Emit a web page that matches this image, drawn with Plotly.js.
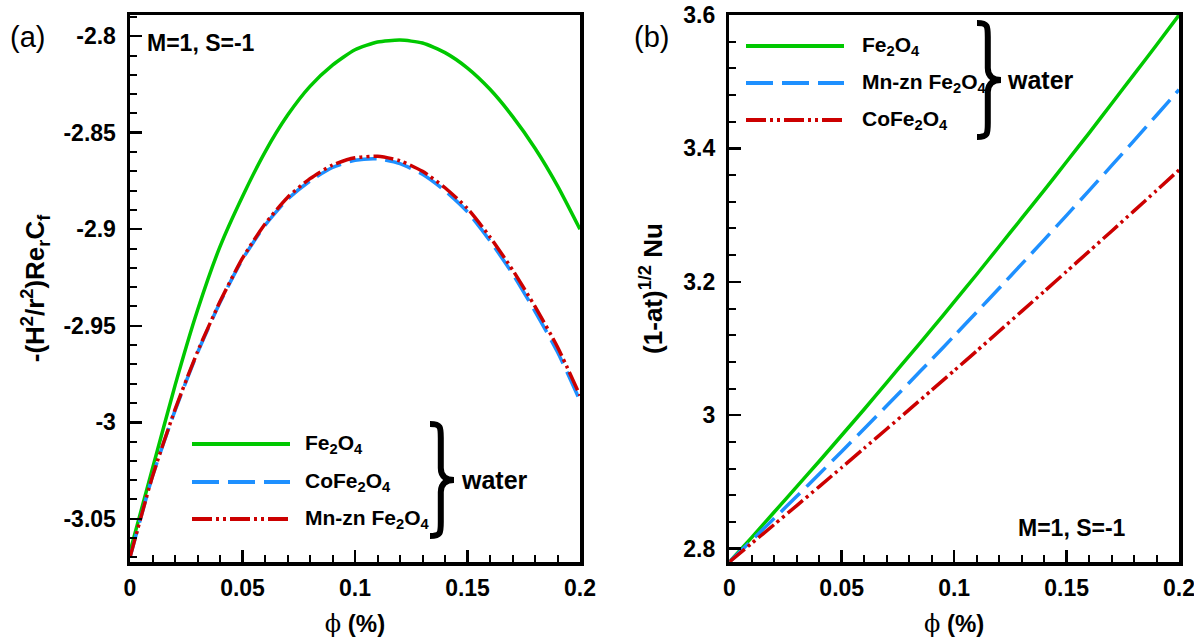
<!DOCTYPE html>
<html>
<head>
<meta charset="utf-8">
<script src="https://cdn.plot.ly/plotly-3.0.1.min.js"></script>
<style>html,body{margin:0;padding:0;background:#fff;}#chart{width:1194px;height:638px;}</style>
</head>
<body>
<div id="chart"></div>
<script>
// ---- data ----
const phi = [0,0.01,0.02,0.03,0.04,0.05,0.06,0.07,0.08,0.09,0.10,0.11,0.12,0.13,0.14,0.15,0.16,0.17,0.18,0.19,0.20];

// (a) skin friction -(H^2/r^2) Re_r C_f
const cfFe   = [-3.067,-3.024,-2.981,-2.942,-2.909,-2.883,-2.860,-2.841,-2.826,-2.815,-2.807,-2.803,-2.802,-2.8035,-2.8085,-2.8165,-2.8275,-2.8415,-2.858,-2.8775,-2.900];
const cfCo   = [-3.070,-3.028,-2.994,-2.964,-2.938,-2.9155,-2.898,-2.8845,-2.875,-2.868,-2.8643,-2.8635,-2.866,-2.8715,-2.880,-2.891,-2.906,-2.923,-2.9425,-2.9636,-2.9888];
const cfMn   = [-3.070,-3.028,-2.9935,-2.9635,-2.9375,-2.915,-2.8973,-2.8835,-2.8738,-2.8667,-2.863,-2.8622,-2.8645,-2.870,-2.8785,-2.8893,-2.904,-2.921,-2.940,-2.961,-2.9862];

// (b) Nusselt number (1-at)^(1/2) Nu
const nuFe   = [2.780,2.817,2.855,2.893,2.931,2.970,3.009,3.049,3.089,3.129,3.170,3.211,3.253,3.295,3.337,3.380,3.423,3.467,3.511,3.555,3.600];
const nuMn   = [2.780,2.8125,2.8454,2.8785,2.9119,2.9457,2.9797,3.0141,3.0487,3.0837,3.1189,3.1545,3.1903,3.2265,3.2629,3.2997,3.3367,3.3741,3.4117,3.4497,3.488];
const nuCo   = [2.780,2.8081,2.8363,2.8646,2.8931,2.9217,2.9505,2.9794,3.0084,3.0376,3.0669,3.0963,3.1259,3.1557,3.1855,3.2155,3.2457,3.2759,3.3064,3.3369,3.3676];

// tick labels
const cfTickVals = [-3.05,-3,-2.95,-2.9,-2.85,-2.8];
const cfTickText = ['-3.05','-3','-2.95','-2.9','-2.85','-2.8'];
const nuTickVals = [2.8,3,3.2,3.4,3.6];
const nuTickText = ['2.8','3','3.2','3.4','3.6'];
const phiTickVals = [0,0.05,0.1,0.15,0.2];
const phiTickText = ['0','0.05','0.1','0.15','0.2'];

const labFe = 'Fe<sub>2</sub>O<sub>4</sub>';
const labCo = 'CoFe<sub>2</sub>O<sub>4</sub>';
const labMn = 'Mn-zn Fe<sub>2</sub>O<sub>4</sub>';

// ---- styling ----
const W = 1194, H = 638;
const GREEN = '#00c800', BLUE = '#1e90ff', RED = '#cc0000';
const DASH_BLUE = '27px,9px';
const DASH_RED = '20px,4px,3px,4px,3px,4px';
const LW = 3.5;
const FONT = 'Liberation Sans, Arial, sans-serif';
const fx = v => v / W;
const fy = v => 1 - v / H;

function tr(x, y, name, color, dash, xa, ya) {
  return {x: x, y: y, name: name, type: 'scatter', mode: 'lines', xaxis: xa, yaxis: ya, cliponaxis: false,
    line: {color: color, width: LW, dash: dash, shape: 'spline', smoothing: 0.6}, showlegend: false};
}

const data = [
  tr(phi, cfFe, labFe, GREEN, 'solid', 'x', 'y'),
  tr(phi, cfCo, labCo, BLUE, DASH_BLUE, 'x', 'y'),
  tr(phi, cfMn, labMn, RED, DASH_RED, 'x', 'y'),
  tr(phi, nuFe, labFe, GREEN, 'solid', 'x2', 'y2'),
  tr(phi, nuMn, labMn, BLUE, DASH_BLUE, 'x2', 'y2'),
  tr(phi, nuCo, labCo, RED, DASH_RED, 'x2', 'y2')
];

const tickFont = {family: FONT, size: 23, color: '#000', weight: 'bold'};
const titleFont = {family: FONT, size: 26, color: '#000', weight: 'bold'};
const phiTitle = '<span style="font-family:DejaVu Serif;font-weight:normal">ϕ</span> (%)';

function xAxis(domain) {
  return {domain: domain, range: [-1e-7, 0.2000001], tickmode: 'array', tickvals: phiTickVals, ticktext: phiTickText,
    ticks: 'inside', ticklen: 12, tickwidth: 2.5, tickcolor: '#000',
    minor: {ticks: 'inside', ticklen: 7, tickwidth: 2, tickcolor: '#000', tickmode: 'linear', tick0: 0, dtick: 0.01},
    showline: true, linewidth: 3.5, linecolor: '#000', mirror: true, ticklabeloverflow: 'allow',
    showgrid: false, zeroline: false, tickfont: tickFont, ticklabelstandoff: 3,
    title: {text: phiTitle, font: {family: FONT, size: 24, color: '#000', weight: 'bold'}, standoff: 18}};
}
function yAxis(domain, range, tv, tt, mdt, anchor, title, standoff) {
  return {domain: domain, range: range, anchor: anchor, tickmode: 'array', tickvals: tv, ticktext: tt,
    ticks: 'inside', ticklen: 12, tickwidth: 2.5, tickcolor: '#000',
    minor: {ticks: 'inside', ticklen: 7, tickwidth: 2, tickcolor: '#000', tickmode: 'linear', tick0: 0, dtick: mdt},
    showline: true, linewidth: 3.5, linecolor: '#000', mirror: true, ticklabeloverflow: 'allow',
    showgrid: false, zeroline: false, tickfont: tickFont, ticklabelstandoff: 6,
    title: {text: title, font: titleFont, standoff: standoff}};
}

const yDom = [fy(562), fy(15)];
const layout = {
  width: W, height: H,
  margin: {l: 0, r: 0, t: 0, b: 0},
  paper_bgcolor: '#fff', plot_bgcolor: '#fff',
  showlegend: false,
  xaxis: Object.assign(xAxis([fx(130), fx(580)]), {anchor: 'y'}),
  yaxis: yAxis(yDom, [-3.0724, -2.789], cfTickVals, cfTickText, 0.01, 'x',
    '-(H<sup>2</sup>/r<sup>2</sup>)Re<sub>r</sub>C<sub>f</sub>', 12),
  xaxis2: Object.assign(xAxis([fx(729.3), fx(1179)]), {anchor: 'y2'}),
  yaxis2: yAxis(yDom, [2.78, 3.6000001], nuTickVals, nuTickText, 0.04, 'x2',
    '(1-at)<sup>1/2</sup> Nu', 14),
  shapes: [],
  annotations: []
};

function legendBlock(x0, x1, xt, rows, braceX, braceTop, braceBot, waterX) {
  rows.forEach(r => {
    layout.shapes.push({type: 'line', xref: 'paper', yref: 'paper', x0: fx(x0), x1: fx(x1), y0: fy(r.y), y1: fy(r.y),
      line: {color: r.color, width: 4, dash: r.dash}});
    layout.annotations.push({xref: 'paper', yref: 'paper', x: fx(xt), y: fy(r.y), xanchor: 'left', yanchor: 'middle',
      text: r.text, showarrow: false, font: {family: FONT, size: 21, color: '#000', weight: 'bold'}});
  });
  const w = 24, xm = braceX + w * 0.45, ym = (braceTop + braceBot) / 2;
  const P = (a, b) => fx(a) + ',' + fy(b);
  const path = 'M' + P(braceX, braceTop) +
    ' C' + P(braceX + w * 0.45, braceTop) + ' ' + P(xm, braceTop + 3) + ' ' + P(xm, braceTop + 14) +
    ' L' + P(xm, ym - 12) +
    ' C' + P(xm, ym - 3) + ' ' + P(braceX + w * 0.7, ym) + ' ' + P(braceX + w, ym) +
    ' C' + P(braceX + w * 0.7, ym) + ' ' + P(xm, ym + 3) + ' ' + P(xm, ym + 12) +
    ' L' + P(xm, braceBot - 14) +
    ' C' + P(xm, braceBot - 3) + ' ' + P(braceX + w * 0.45, braceBot) + ' ' + P(braceX, braceBot);
  layout.shapes.push({type: 'path', xref: 'paper', yref: 'paper', path: path, line: {color: '#000', width: 6}});
  layout.annotations.push({xref: 'paper', yref: 'paper', x: fx(waterX), y: fy(ym), xanchor: 'left', yanchor: 'middle',
    text: 'water', showarrow: false, font: {family: FONT, size: 25, color: '#000', weight: 'bold'}});
}

legendBlock(192, 290, 303, [
  {y: 444, color: GREEN, dash: 'solid', text: labFe},
  {y: 482, color: BLUE, dash: DASH_BLUE, text: labCo},
  {y: 519, color: RED, dash: DASH_RED, text: labMn}
], 430, 424, 536, 459);

legendBlock(746, 844, 860, [
  {y: 46, color: GREEN, dash: 'solid', text: labFe},
  {y: 83, color: BLUE, dash: DASH_BLUE, text: labMn},
  {y: 120, color: RED, dash: DASH_RED, text: labCo}
], 977, 23, 137, 1005);

// panel labels and parameter notes
layout.annotations.push(
  {xref: 'paper', yref: 'paper', x: fx(8), y: fy(37), xanchor: 'left', yanchor: 'middle', text: '(a)', showarrow: false,
    font: {family: FONT, size: 29, color: '#000'}},
  {xref: 'paper', yref: 'paper', x: fx(632), y: fy(37), xanchor: 'left', yanchor: 'middle', text: '(b)', showarrow: false,
    font: {family: FONT, size: 29, color: '#000'}},
  {xref: 'paper', yref: 'paper', x: fx(145), y: fy(43), xanchor: 'left', yanchor: 'middle', text: 'M=1, S=-1', showarrow: false,
    font: {family: FONT, size: 23, color: '#000', weight: 'bold'}},
  {xref: 'paper', yref: 'paper', x: fx(1016), y: fy(528), xanchor: 'left', yanchor: 'middle', text: 'M=1, S=-1', showarrow: false,
    font: {family: FONT, size: 23, color: '#000', weight: 'bold'}}
);

Plotly.newPlot('chart', data, layout, {displayModeBar: false, staticPlot: true});
</script>
</body>
</html>
